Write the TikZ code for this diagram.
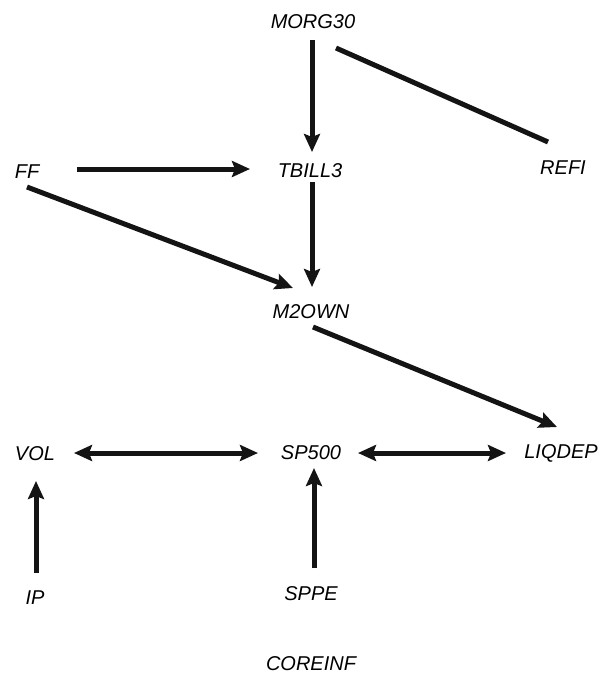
\documentclass[tikz,border=0pt]{standalone}
\usepackage{fontspec}
\setmainfont{Liberation Sans}
\usetikzlibrary{arrows.meta}
\begin{document}
\begin{tikzpicture}[x=1pt,y=-1pt,
  var/.style={inner sep=0pt,text height=14.2pt,text depth=0pt,anchor=center,font=\fontsize{20}{20}\selectfont\itshape},
  conn/.style={line width=5pt,draw=black!92},
  arr/.style={conn,-{Stealth[length=18pt,width=16pt,inset=3pt]}},
  darr/.style={conn,{Stealth[length=18pt,width=16pt,inset=3pt]}-{Stealth[length=18pt,width=16pt,inset=3pt]}}]
\useasboundingbox (0,0) rectangle (601,675);
\node[var] (morg) at (313,21) {MORG30};
\node[var] (tbill) at (310,170) {TBILL3};
\node[var] (ff) at (27,171) {FF};
\node[var] (refi) at (563,167) {REFI};
\node[var] (m2) at (311,311) {M2OWN};
\node[var] (vol) at (35,453) {VOL};
\node[var] (sp) at (311,452) {SP500};
\node[var] (liq) at (561,451) {LIQDEP};
\node[var] (ip) at (35,597) {IP};
\node[var] (sppe) at (311,593) {SPPE};
\node[var] (core) at (311,663) {COREINF};
\draw[arr] ([shift={(-1,19)}]morg.center) -- ([shift={(2,-18)}]tbill.center);
\draw[conn] ([shift={(23,27)}]morg.center) -- ([shift={(-15,-25)}]refi.center);
\draw[arr] ([shift={(50,-2)}]ff.center) -- ([shift={(-60,-1)}]tbill.center);
\draw[arr] ([shift={(0,16)}]ff.center) -- ([shift={(-18,-23)}]m2.center);
\draw[arr] ([shift={(2,12)}]tbill.center) -- ([shift={(1,-24)}]m2.center);
\draw[arr] ([shift={(2,16)}]m2.center) -- ([shift={(-4,-24)}]liq.center);
\draw[darr] ([shift={(39,0)}]vol.center) -- ([shift={(-53,1)}]sp.center);
\draw[darr] ([shift={(47,1)}]sp.center) -- ([shift={(-55,2)}]liq.center);
\draw[arr] ([shift={(1,-24)}]ip.center) -- ([shift={(1,28)}]vol.center);
\draw[arr] ([shift={(3,-25)}]sppe.center) -- ([shift={(3,16)}]sp.center);
\end{tikzpicture}
\end{document}
